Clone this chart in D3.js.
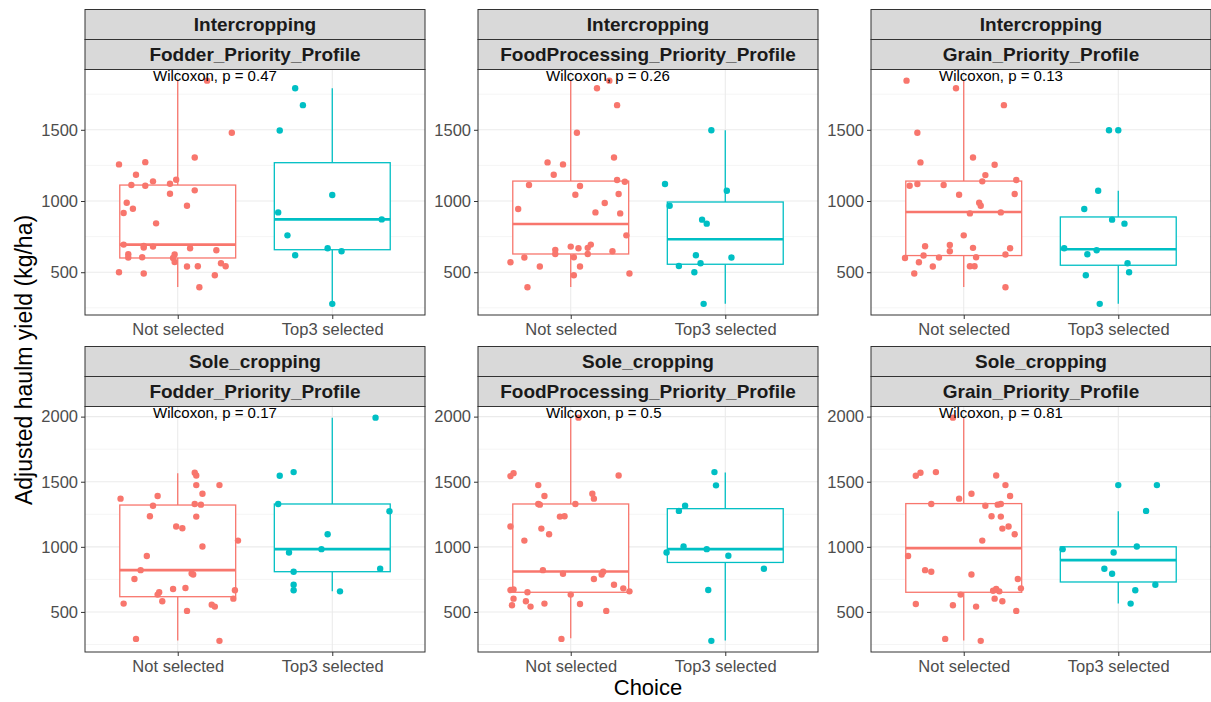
<!DOCTYPE html>
<html>
<head>
<meta charset="utf-8">
<script src="https://cdn.jsdelivr.net/npm/d3@7"></script>
<style>
  html, body { margin: 0; padding: 0; background: #ffffff; }
  svg { display: block; font-family: "Liberation Sans", Arial, Helvetica, sans-serif; }
</style>
</head>
<body>
<svg id="chart" width="1211" height="702"></svg>
<script>
// ---- data -------------------------------------------------------------
const groups = ["Not selected", "Top3 selected"];
const systems = ["Intercropping", "Sole_cropping"];
const profiles = ["Fodder_Priority_Profile", "FoodProcessing_Priority_Profile", "Grain_Priority_Profile"];
const pValues = [["0.47", "0.26", "0.13"], ["0.17", "0.5", "0.81"]];

const yTicksRow = [[500, 1000, 1500], [500, 1000, 1500, 2000]];
const yMinorRow = [[250, 750, 1250, 1750], [250, 750, 1250, 1750]];

// observations: [horizontal jitter (category units), yield kg/ha]
const interFodderNot = [[0.19,1845],[0.35,1479],[0.11,1306],[-0.38,1257],[-0.21,1273],[-0.27,1184],[-0.30,1112],[-0.21,1107],[-0.16,1138],[-0.05,1121],[-0.01,1149],[-0.05,1051],[0.11,1075],[-0.33,988],[-0.35,916],[-0.29,946],[0.06,967],[-0.14,843],[-0.35,694],[-0.22,673],[-0.22,685],[-0.16,680],[0.08,668],[0.25,654],[-0.32,626],[-0.32,603],[-0.23,605],[-0.02,624],[-0.03,600],[-0.02,572],[0.06,540],[0.13,542],[0.28,563],[0.31,542],[0.24,479],[-0.38,500],[-0.22,491],[0.14,395]];
const interFodderTop = [[-0.24,1792],[-0.19,1673],[-0.34,1495],[0.00,1042],[-0.35,920],[0.32,871],[-0.29,759],[-0.03,668],[0.06,647],[-0.24,619],[0.00,278]];

const interFoodNot = [[0.25,1845],[0.17,1792],[0.30,1673],[0.04,1479],[0.28,1306],[-0.15,1271],[-0.05,1257],[-0.11,1184],[-0.27,1112],[0.06,1105],[0.30,1147],[0.35,1135],[0.31,1049],[0.03,1044],[0.22,986],[-0.34,944],[0.16,920],[0.32,913],[0.36,759],[0.00,680],[0.05,668],[0.13,694],[0.11,671],[-0.10,657],[-0.10,628],[0.27,647],[0.11,628],[-0.30,603],[0.02,605],[-0.39,570],[-0.20,540],[0.06,540],[0.02,479],[0.38,491],[-0.28,395]];
const interFoodTop = [[-0.09,1497],[-0.39,1119],[0.01,1072],[-0.36,967],[-0.15,869],[-0.12,841],[-0.19,619],[0.04,603],[-0.30,544],[-0.16,563],[-0.20,500],[-0.14,278]];

const interGrainNot = [[-0.37,1845],[-0.05,1792],[0.26,1673],[-0.30,1479],[0.06,1306],[-0.28,1271],[0.20,1255],[0.14,1182],[0.12,1138],[0.34,1147],[-0.35,1107],[-0.30,1119],[-0.13,1112],[-0.03,1044],[0.33,1049],[0.10,988],[0.11,967],[0.04,913],[0.24,920],[0.00,759],[-0.25,682],[-0.09,692],[-0.09,647],[0.06,671],[0.30,668],[-0.26,617],[-0.16,603],[0.08,605],[0.27,624],[-0.38,600],[-0.29,570],[-0.20,540],[0.04,542],[0.07,542],[-0.32,491],[0.27,395]];
const interGrainTop = [[-0.06,1497],[0.00,1497],[-0.13,1072],[-0.22,944],[-0.04,869],[0.04,841],[-0.35,668],[-0.14,654],[-0.20,626],[0.06,563],[0.07,500],[-0.21,479],[-0.12,278]];

const soleFodderNot = [[0.11,1569],[0.12,1548],[0.12,1474],[0.27,1474],[0.16,1408],[-0.37,1370],[-0.13,1390],[-0.16,1316],[0.11,1329],[0.15,1324],[-0.18,1235],[0.12,1232],[-0.01,1156],[0.03,1143],[0.39,1048],[0.16,1003],[-0.20,929],[-0.24,821],[0.09,796],[0.10,788],[-0.28,753],[-0.03,676],[0.05,684],[0.37,666],[-0.12,651],[-0.13,633],[0.36,602],[-0.10,582],[-0.35,564],[0.22,556],[0.24,541],[0.06,508],[-0.27,293],[0.27,278]];
const soleFodderTop = [[0.28,1992],[-0.25,1574],[-0.34,1546],[-0.35,1329],[0.37,1273],[-0.03,1097],[-0.28,957],[-0.07,982],[0.31,832],[-0.25,809],[-0.25,709],[-0.25,666],[0.05,658]];

const soleFoodNot = [[0.05,1992],[-0.39,1543],[-0.37,1566],[0.31,1548],[-0.21,1474],[-0.17,1390],[0.14,1408],[0.15,1370],[-0.21,1329],[-0.20,1324],[0.03,1329],[-0.07,1232],[-0.04,1235],[-0.39,1156],[-0.19,1140],[-0.14,1097],[-0.30,1048],[-0.18,821],[-0.05,793],[0.21,809],[0.20,788],[0.15,753],[0.28,709],[0.34,681],[0.38,658],[-0.39,668],[-0.37,673],[-0.28,651],[0.00,633],[-0.37,602],[-0.29,582],[-0.38,551],[-0.26,541],[-0.17,564],[0.06,561],[0.23,508],[-0.06,293]];
const soleFoodTop = [[-0.07,1574],[-0.06,1472],[-0.26,1316],[-0.30,1276],[-0.27,1003],[-0.38,957],[-0.12,982],[0.02,931],[0.25,832],[-0.11,668],[-0.09,278]];

const soleGrainNot = [[-0.07,1992],[-0.31,1546],[-0.28,1569],[-0.18,1574],[0.21,1548],[0.27,1474],[-0.03,1370],[0.05,1408],[0.30,1390],[-0.21,1329],[0.14,1316],[0.22,1324],[0.24,1329],[0.18,1235],[0.24,1232],[0.25,1140],[0.29,1156],[0.33,1097],[0.12,1048],[-0.36,929],[-0.25,821],[-0.21,809],[0.05,788],[0.35,753],[0.37,681],[0.19,663],[0.21,676],[0.23,658],[-0.02,633],[0.20,602],[0.25,582],[-0.31,561],[-0.07,551],[0.08,541],[0.34,508],[-0.12,293],[0.11,278]];
const soleGrainTop = [[0.00,1474],[0.25,1474],[0.18,1276],[-0.36,982],[0.12,1003],[-0.03,957],[-0.09,832],[-0.04,793],[0.24,709],[0.11,666],[0.08,564]];

// box summaries: [lower whisker, Q1, median, Q3, upper whisker]
const interFodderBox = [[397, 600, 694, 1112, 1845], [278, 658, 871, 1269, 1792]];
const interFoodBox   = [[397, 628, 839, 1140, 1845], [278, 556, 731, 993, 1497]];
const interGrainBox  = [[397, 617, 923, 1140, 1845], [278, 549, 661, 888, 1072]];
const soleFodderBox  = [[281, 617, 821, 1321, 1566], [658, 809, 982, 1329, 1992]];
const soleFoodBox    = [[298, 651, 811, 1329, 1992], [281, 880, 982, 1293, 1571]];
const soleGrainBox   = [[281, 651, 990, 1332, 1992], [564, 730, 898, 1000, 1273]];

const panelPoints = [
  [[interFodderNot, interFodderTop], [interFoodNot, interFoodTop], [interGrainNot, interGrainTop]],
  [[soleFodderNot, soleFodderTop], [soleFoodNot, soleFoodTop], [soleGrainNot, soleGrainTop]]
];
const panelBoxes = [
  [interFodderBox, interFoodBox, interGrainBox],
  [soleFodderBox, soleFoodBox, soleGrainBox]
];

// ---- layout -----------------------------------------------------------
const colors = ["#F8766D", "#00BFC4"];
const panelX = [85, 478, 871];
const panelW = 340;
const rowTop = [9.5, 346.5];
const stripH = 30;
const plotH = 245.5;

const svg = d3.select("#chart");

systems.forEach((sys, r) => {
  // shared y range per row, padded by 5% like the default continuous expansion
  const allVals = panelPoints[r].flat().flat().map(d => d[1]);
  const [lo, hi] = d3.extent(allVals);
  const pad = (hi - lo) * 0.05;
  const plotTop = rowTop[r] + 2 * stripH;
  const y = d3.scaleLinear().domain([lo - pad, hi + pad]).range([plotH, 0]);

  profiles.forEach((prof, c) => {
    const x = d3.scalePoint().domain(groups).range([0, panelW]).padding(0.6);
    const step = x.step();

    // strips
    const strips = svg.append("g").attr("transform", `translate(${panelX[c]},${rowTop[r]})`);
    [sys, prof].forEach((label, k) => {
      strips.append("rect")
        .attr("x", 0).attr("y", k * stripH)
        .attr("width", panelW).attr("height", stripH)
        .attr("fill", "#D9D9D9").attr("stroke", "#333333").attr("stroke-width", 1);
      strips.append("text")
        .attr("x", panelW / 2).attr("y", k * stripH + stripH / 2)
        .attr("dy", "0.36em")
        .attr("text-anchor", "middle")
        .attr("font-size", 19).attr("font-weight", "bold")
        .attr("fill", "#1A1A1A")
        .text(label);
    });

    const g = svg.append("g").attr("transform", `translate(${panelX[c]},${plotTop})`);

    // gridlines
    g.append("g").selectAll("line.minor").data(yMinorRow[r].filter(v => y(v) >= 0 && y(v) <= plotH))
      .join("line")
      .attr("x1", 0).attr("x2", panelW)
      .attr("y1", d => y(d)).attr("y2", d => y(d))
      .attr("stroke", "#F2F2F2").attr("stroke-width", 0.8);
    g.append("g").selectAll("line.major").data(yTicksRow[r])
      .join("line")
      .attr("x1", 0).attr("x2", panelW)
      .attr("y1", d => y(d)).attr("y2", d => y(d))
      .attr("stroke", "#EBEBEB").attr("stroke-width", 1.1);
    g.append("g").selectAll("line.vmajor").data(groups)
      .join("line")
      .attr("x1", d => x(d)).attr("x2", d => x(d))
      .attr("y1", 0).attr("y2", plotH)
      .attr("stroke", "#EBEBEB").attr("stroke-width", 1.1);

    // boxplots
    const boxW = 0.75 * step;
    groups.forEach((grp, i) => {
      const [wLo, q1, med, q3, wHi] = panelBoxes[r][c][i];
      const cx = x(grp);
      const bg = g.append("g").attr("stroke", colors[i]).attr("fill", "none");
      bg.append("line").attr("x1", cx).attr("x2", cx).attr("y1", y(q3)).attr("y2", y(wHi)).attr("stroke-width", 1.3);
      bg.append("line").attr("x1", cx).attr("x2", cx).attr("y1", y(q1)).attr("y2", y(wLo)).attr("stroke-width", 1.3);
      bg.append("rect")
        .attr("x", cx - boxW / 2).attr("y", y(q3))
        .attr("width", boxW).attr("height", y(q1) - y(q3))
        .attr("fill", "#ffffff").attr("stroke-width", 1.3);
      bg.append("line")
        .attr("x1", cx - boxW / 2).attr("x2", cx + boxW / 2)
        .attr("y1", y(med)).attr("y2", y(med))
        .attr("stroke-width", 2.6);
    });

    // jittered observations
    groups.forEach((grp, i) => {
      g.append("g").selectAll("circle").data(panelPoints[r][c][i])
        .join("circle")
        .attr("cx", d => x(grp) + d[0] * step)
        .attr("cy", d => y(d[1]))
        .attr("r", 3.2)
        .attr("fill", colors[i]);
    });

    // panel border
    g.append("rect")
      .attr("x", 0).attr("y", 0).attr("width", panelW).attr("height", plotH)
      .attr("fill", "none").attr("stroke", "#333333").attr("stroke-width", 1);

    // y axis
    const yAxis = g.append("g")
      .call(d3.axisLeft(y).tickValues(yTicksRow[r]).tickSize(4).tickPadding(3).tickFormat(d3.format("d")));
    yAxis.select(".domain").remove();
    yAxis.selectAll(".tick line").attr("stroke", "#333333");
    yAxis.selectAll(".tick text")
      .attr("font-size", 16.5).attr("fill", "#4D4D4D")
      .attr("font-family", "'Liberation Sans', Arial, sans-serif");

    // x axis
    const xAxis = g.append("g").attr("transform", `translate(0,${plotH})`)
      .call(d3.axisBottom(x).tickSize(4).tickPadding(4));
    xAxis.select(".domain").remove();
    xAxis.selectAll(".tick line").attr("stroke", "#333333");
    xAxis.selectAll(".tick text")
      .attr("font-size", 16.5).attr("fill", "#4D4D4D")
      .attr("font-family", "'Liberation Sans', Arial, sans-serif");

    // test annotation, anchored at the top of the data range
    g.append("text")
      .attr("x", x(groups[0]) - 0.16 * step)
      .attr("y", y(hi))
      .attr("font-size", 15).attr("fill", "#000000")
      .text(`Wilcoxon, p = ${pValues[r][c]}`);
  });
});

// axis titles
svg.append("text")
  .attr("transform", `translate(32,360) rotate(-90)`)
  .attr("text-anchor", "middle")
  .attr("font-size", 23).attr("fill", "#000000")
  .text("Adjusted haulm yield (kg/ha)");

svg.append("text")
  .attr("x", 648).attr("y", 695)
  .attr("text-anchor", "middle")
  .attr("font-size", 22).attr("fill", "#000000")
  .text("Choice");
</script>
</body>
</html>
